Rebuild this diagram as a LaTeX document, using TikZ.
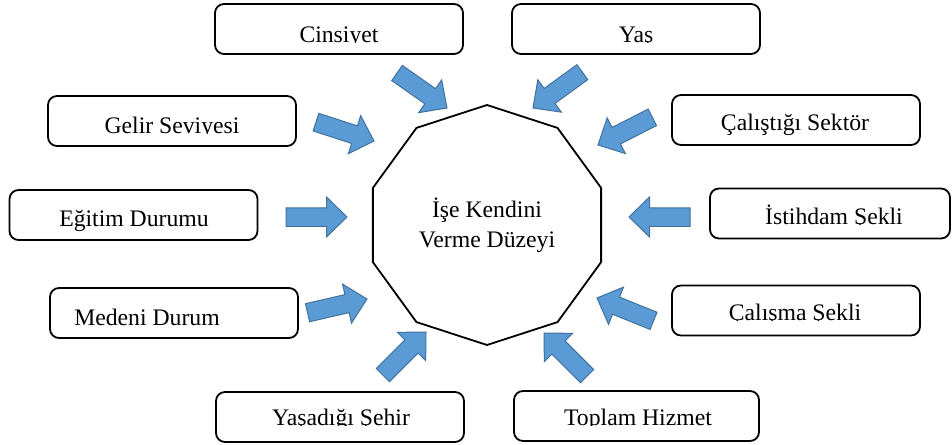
\documentclass[tikz,border=0pt]{standalone}
\usepackage{fontspec}
\setmainfont{Liberation Serif}
\usetikzlibrary{shapes.geometric}
\definecolor{arrowfill}{HTML}{5B9BD5}
\definecolor{arrowdraw}{HTML}{41719C}
\tikzset{
  box/.style={draw=black, line width=1.8pt, rounded corners=9pt, minimum width=248pt, minimum height=50pt, inner sep=0pt},
  lbl/.style={font=\fontsize{23.7}{30}\selectfont, inner sep=0pt, text=black},
  barrow/.pic={\path[fill=arrowfill, draw=arrowdraw, line width=1pt, line join=miter]
     (0,0) -- (-20.5,20) -- (-20.5,9.25) -- (-61,9.25) -- (-61,-9.25) -- (-20.5,-9.25) -- (-20.5,-20) -- cycle;},
  deca/.style={draw=black, line width=1.8pt, regular polygon, regular polygon sides=10,
     shape border rotate=18, minimum size=240pt, inner sep=0pt, align=center,
     font=\fontsize{23.7}{30}\selectfont}
}
\newcommand\cutlabel[5]{%
  \begin{scope}
    \clip (#1.north west) rectangle (#1.east |- 0,#4);
    \node[lbl, anchor=base] (#1t) at (#2,#3) {#5};
  \end{scope}}
\begin{document}
\begin{tikzpicture}[x=1pt, y=-1pt]
\useasboundingbox[fill=white] (0,0) rectangle (952,444);
% centre
\node[deca] (center) at (487,225) {İşe Kendini\\Verme Düzeyi};
% boxes
\node[box] (cins) at (339,29) {};
\node[box] (yas) at (636,29) {};
\node[box] (gelir) at (172,121) {};
\node[box] (calis) at (796,120) {};
\node[box] (egitim) at (133.5,215) {};
\node[box, minimum width=240pt] (istih) at (830,213.5) {};
\node[box] (medeni) at (174,313) {};
\node[box] (calisma) at (796,310.5) {};
\node[box] (yasad) at (340,417) {};
\node[box, minimum width=245pt] (toplam) at (636.5,416) {};
% labels
\cutlabel{cins}{339}{42}{42.4}{Cinsiyet}
\cutlabel{yas}{636}{42}{42.4}{Yaş}
\cutlabel{gelir}{172}{133}{133.4}{Gelir Seviyesi}
\node[lbl, anchor=base] (calist) at (795,130) {Çalıştığı Sektör};
\node[lbl, anchor=base] (egitimt) at (134,226) {Eğitim Durumu};
\cutlabel{istih}{834}{224}{224.4}{İstihdam Şekli}
\node[lbl, anchor=base] (medenit) at (147,325) {Medeni Durum};
\cutlabel{calisma}{795}{320}{320.4}{Çalışma Şekli}
\cutlabel{yasad}{341}{425}{425.6}{Yaşadığı Şehir}
\cutlabel{toplam}{638}{425}{425.4}{Toplam Hizmet}
% block arrows (tip position, direction)
\pic[rotate=-35] (a1) at (447,108) {barrow};
\pic[rotate=-144] (a2) at (533,108) {barrow};
\pic[rotate=-18] (a3) at (374,141) {barrow};
\pic[rotate=-153] (a4) at (598,145) {barrow};
\pic[rotate=0] (a5) at (347,217) {barrow};
\pic[rotate=180] (a6) at (629,217) {barrow};
\pic[rotate=13] (a7) at (367,299) {barrow};
\pic[rotate=158] (a8) at (597,298) {barrow};
\pic[rotate=45] (a9) at (426,332) {barrow};
\pic[rotate=135] (a10) at (544,333) {barrow};
\end{tikzpicture}
\end{document}
